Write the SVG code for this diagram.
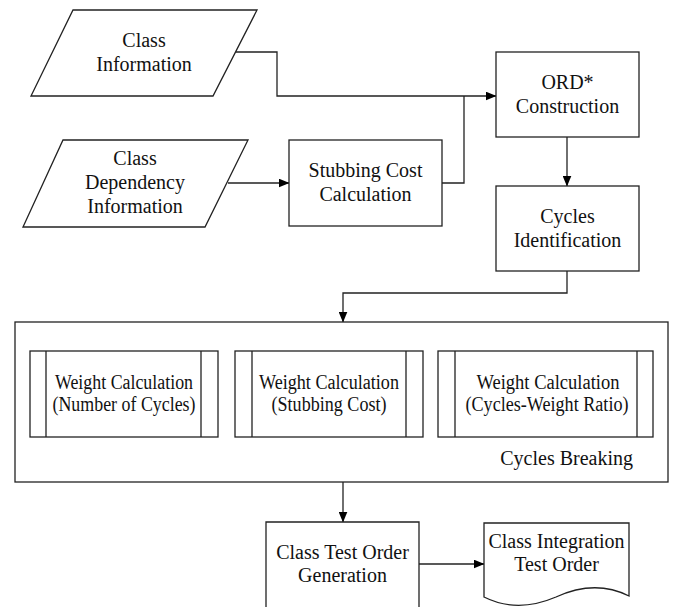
<svg xmlns="http://www.w3.org/2000/svg" width="676" height="607" viewBox="0 0 676 607">
<defs>
<marker id="arr" markerWidth="11" markerHeight="9" refX="10.5" refY="4.5" orient="auto" markerUnits="userSpaceOnUse">
<path d="M0,0 L11,4.5 L0,9 Z" fill="#000"/>
</marker>
<style>
.s{fill:#fff;stroke:#222;stroke-width:1.3}
.l{fill:none;stroke:#222;stroke-width:1.3}
.c{fill:none;stroke:#222;stroke-width:1.3}
.t{font-family:"Liberation Serif","Times New Roman",serif;font-size:20px;fill:#111;text-anchor:middle}
.e{text-anchor:end}
</style>
</defs>
<rect width="676" height="607" fill="#fff"/>
<g id="connectors">
<path class="c" d="M236,52 H277 V96 H496" marker-end="url(#arr)"/>
<path class="c" d="M228,183 H289" marker-end="url(#arr)"/>
<path class="c" d="M442,183 H464 V96"/>
<path class="c" d="M567,137 V186" marker-end="url(#arr)"/>
<path class="c" d="M567,271 V293 H343 V322" marker-end="url(#arr)"/>
<path class="c" d="M343,482 V522" marker-end="url(#arr)"/>
<path class="c" d="M419,564 H484" marker-end="url(#arr)"/>
</g>
<g id="class-information">
<polygon class="s" points="73,10 257,10 213,96 31,96"/>
<text class="t" x="144" y="47">Class</text>
<text class="t" x="144" y="71">Information</text>
</g>
<g id="class-dependency-information">
<polygon class="s" points="63,140 248,140 205,227 23,227"/>
<text class="t" x="135" y="165">Class</text>
<text class="t" x="135" y="189">Dependency</text>
<text class="t" x="135" y="213">Information</text>
</g>
<g id="stubbing-cost-calculation">
<rect class="s" x="289" y="140" width="153" height="86"/>
<text class="t" x="365.5" y="177">Stubbing Cost</text>
<text class="t" x="365.5" y="201">Calculation</text>
</g>
<g id="ord-construction">
<rect class="s" x="496" y="52" width="143" height="85"/>
<text class="t" x="567.5" y="89">ORD*</text>
<text class="t" x="567.5" y="113">Construction</text>
</g>
<g id="cycles-identification">
<rect class="s" x="496" y="186" width="143" height="85"/>
<text class="t" x="567.5" y="223">Cycles</text>
<text class="t" x="567.5" y="247">Identification</text>
</g>
<g id="cycles-breaking">
<rect class="s" x="15" y="322" width="653" height="160"/>
<text class="t e" x="633" y="465">Cycles Breaking</text>
</g>
<g id="weight-number-of-cycles">
<rect class="s" x="30" y="351" width="188" height="86"/>
<path class="l" d="M46,351 V437 M201,351 V437"/>
<text class="t" x="124" y="389" textLength="138" lengthAdjust="spacingAndGlyphs">Weight Calculation</text>
<text class="t" x="124" y="411" textLength="143" lengthAdjust="spacingAndGlyphs">(Number of Cycles)</text>
</g>
<g id="weight-stubbing-cost">
<rect class="s" x="235" y="351" width="188" height="86"/>
<path class="l" d="M252,351 V437 M406,351 V437"/>
<text class="t" x="329" y="389" textLength="140" lengthAdjust="spacingAndGlyphs">Weight Calculation</text>
<text class="t" x="329" y="411" textLength="115" lengthAdjust="spacingAndGlyphs">(Stubbing Cost)</text>
</g>
<g id="weight-cycles-weight-ratio">
<rect class="s" x="438" y="351" width="215" height="86"/>
<path class="l" d="M455,351 V437 M637,351 V437"/>
<text class="t" x="548" y="389" textLength="143" lengthAdjust="spacingAndGlyphs">Weight Calculation</text>
<text class="t" x="547" y="411" textLength="163" lengthAdjust="spacingAndGlyphs">(Cycles-Weight Ratio)</text>
</g>
<g id="class-test-order-generation">
<path class="s" d="M266,612 V522 H419 V612"/>
<text class="t" x="342.5" y="559">Class Test Order</text>
<text class="t" x="342.5" y="582">Generation</text>
</g>
<g id="class-integration-test-order">
<path class="s" d="M484,523 H629 V596 C605,584 580,586 556,597 C535,606 510,610 484,597 Z"/>
<text class="t" x="556.5" y="548">Class Integration</text>
<text class="t" x="556.5" y="571">Test Order</text>
</g>
</svg>
